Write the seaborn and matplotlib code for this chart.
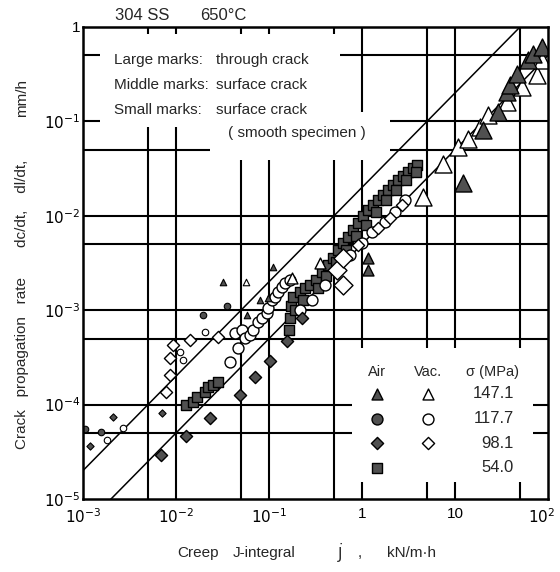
import matplotlib
matplotlib.use("Agg")
import numpy as np
import matplotlib.pyplot as plt
import matplotlib.transforms as mtransforms
import seaborn as sns
from matplotlib.patches import Rectangle

# ---------------- data: creep J-integral (kN/m.h) vs crack rate (mm/h) ----------------
# 147.1 MPa, air (filled triangles)
air147_large_J = [12.2, 20.0, 29.0, 36.0, 39.0, 46.0, 61.0, 69.0, 86.0]
air147_large_rate = [0.0222, 0.081, 0.126, 0.205, 0.243, 0.318, 0.447, 0.518, 0.614]
air147_mid_J = [1.16, 1.16]
air147_mid_rate = [3.57e-3, 2.67e-3]
air147_small_J = [3.2e-2, 5.8e-2, 8.0e-2, 9.75e-2, 0.110]
air147_small_rate = [2.0e-3, 8.9e-4, 1.28e-3, 1.35e-3, 2.9e-3]
# 147.1 MPa, vacuum (open triangles)
vac147_large_J = [4.5, 7.4, 10.8, 13.8, 18.6, 22.6, 36.0, 52.5, 76.0, 86.0]
vac147_large_rate = [0.0158, 0.0354, 0.0536, 0.065, 0.087, 0.117, 0.161, 0.231, 0.31, 0.447]
vac147_mid_J = [0.177, 0.353]
vac147_mid_rate = [2.19e-3, 3.16e-3]
vac147_small_J = [5.7e-2]
vac147_small_rate = [2.0e-3]

# 117.7 MPa, air (filled circles)
air117_small_J = [1.05e-3, 1.56e-3, 1.95e-2, 3.5e-2]
air117_small_rate = [5.5e-5, 5.1e-5, 8.9e-4, 1.11e-3]
# 117.7 MPa, vacuum (open circles)
vac117_small_J = [1.81e-3, 2.7e-3, 1.1e-2, 1.2e-2, 2.05e-2]
vac117_small_rate = [4.2e-5, 5.65e-5, 3.6e-4, 3.0e-4, 5.9e-4]
vac117_mid_J = [3.8e-2, 4.31e-2, 4.64e-2, 5.13e-2, 5.52e-2, 6.25e-2, 6.73e-2, 7.62e-2,
                8.4e-2, 9.5e-2, 9.75e-2, 0.108, 0.116, 0.125, 0.138, 0.149, 0.168,
                0.215, 0.290, 0.400, 0.743, 1.0, 1.28, 1.77, 2.26, 2.90]
vac117_mid_rate = [2.83e-4, 5.73e-4, 3.98e-4, 6.17e-4, 5.08e-4, 5.46e-4, 6.2e-4, 7.5e-4,
                   8.26e-4, 9.3e-4, 1.05e-3, 1.28e-3, 1.38e-3, 1.56e-3, 1.76e-3, 1.94e-3, 2.09e-3,
                   1.0e-3, 1.28e-3, 1.85e-3, 3.84e-3, 5.15e-3, 6.73e-3, 8.59e-3, 1.10e-2, 1.47e-2]

# 98.1 MPa, air (filled diamonds)
air98_mid_J = [6.9e-3, 1.28e-2, 2.32e-2, 4.9e-2, 7.1e-2, 0.103, 0.156, 0.226]
air98_mid_rate = [2.92e-5, 4.65e-5, 7.2e-5, 1.26e-4, 1.96e-4, 2.9e-4, 4.7e-4, 8.3e-4]
air98_small_J = [1.19e-3, 2.1e-3, 7.1e-3]
air98_small_rate = [3.64e-5, 7.4e-5, 8.15e-5]
# 98.1 MPa, vacuum (open diamonds)
vac98_mid_J = [7.8e-3, 8.6e-3, 8.6e-3, 9.3e-3, 1.42e-2, 2.83e-2, 0.906, 1.49, 2.0, 2.69]
vac98_mid_rate = [1.36e-4, 2.06e-4, 3.12e-4, 4.28e-4, 4.83e-4, 5.2e-4, 4.9e-3, 7.43e-3, 9.47e-3, 1.30e-2]
vac98_large_J = [0.54, 0.625, 0.625]
vac98_large_rate = [2.67e-3, 3.57e-3, 1.85e-3]

# 54.0 MPa, air (filled squares)
air54_mid_J = [1.28e-2, 1.52e-2, 1.68e-2, 2.05e-2, 2.2e-2, 2.5e-2, 2.83e-2,
               0.164, 0.168, 0.172, 0.181, 0.215, 0.244, 0.276, 0.32, 0.371, 0.431, 0.487,
               0.552, 0.625, 0.707, 0.80, 0.906, 1.03, 1.16, 1.31, 1.49, 1.68, 1.90, 2.15,
               2.44, 2.76, 3.12, 3.53, 3.90,
               0.19, 0.232, 0.336, 0.41, 0.525, 0.673, 0.861, 1.10, 1.42, 1.81, 2.32, 2.97, 3.81]
air54_mid_rate = [9.9e-5, 1.07e-4, 1.2e-4, 1.36e-4, 1.54e-4, 1.61e-4, 1.73e-4,
                  6.2e-4, 8.3e-4, 1.1e-3, 1.38e-3, 1.56e-3, 1.72e-3, 1.85e-3, 2.09e-3, 2.54e-3, 3.0e-3, 3.57e-3,
                  4.34e-3, 5.15e-3, 5.96e-3, 7.08e-3, 8.39e-3, 9.95e-3, 1.15e-2, 1.30e-2, 1.47e-2, 1.66e-2, 1.87e-2, 2.12e-2,
                  2.39e-2, 2.64e-2, 2.91e-2, 3.21e-2, 3.45e-2,
                  1.0e-3, 1.28e-3, 1.72e-3, 2.30e-3, 3.24e-3, 4.34e-3, 6.11e-3, 8.0e-3, 1.10e-2, 1.47e-2, 1.87e-2, 2.39e-2, 2.91e-2]

# bounding lines  rate = k * J
line_J = np.array([1e-3, 1e2])
upper_k = 0.02
lower_k = 0.005

# axis ticks and reference grid
x_ticks = [1e-3, 1e-2, 1e-1, 1, 10, 1e2]
x_ticklabels = [r"$10^{-3}$", r"$10^{-2}$", r"$10^{-1}$", "1", "10", r"$10^{2}$"]
y_ticks = [1e-5, 1e-4, 1e-3, 1e-2, 1e-1, 1]
y_ticklabels = [r"$10^{-5}$", r"$10^{-4}$", r"$10^{-3}$", r"$10^{-2}$", r"$10^{-1}$", "1"]
x_grid = [5e-3, 1e-2, 5e-2, 1e-1, 5e-1, 1, 5, 10, 50]
y_grid = [0.5, 0.1, 0.05, 0.01, 0.005, 0.001, 5e-4, 1e-4, 5e-5]

stress_labels = ["147.1", "117.7", "98.1", "54.0"]

# ---------------- styling ----------------
sns.set_theme(style="white")
plt.rcParams["font.family"] = ["Liberation Sans", "DejaVu Sans"]
plt.rcParams["mathtext.fontset"] = "dejavusans"

W, H = 560, 572
fig = plt.figure(figsize=(W / 100, H / 100), dpi=100)
L, R, T, B = 83, 548, 27, 499
ax = fig.add_axes([L / W, 1 - B / H, (R - L) / W, (B - T) / H])
ax.set_xscale("log")
ax.set_yscale("log")
ax.set_xlim(1e-3, 1e2)
ax.set_ylim(1e-5, 1)


def fx(px):
    return (px - L) / (R - L)


def fy(py):
    return (B - py) / (B - T)


for v in x_grid:
    ax.axvline(v, color="black", lw=1.5, zorder=1)
for h in y_grid:
    ax.axhline(h, color="black", lw=1.5, zorder=1)

# blank panels behind the annotation blocks
for (x0, x1, y0, y1) in [(100, 340, 34, 127), (210, 390, 112, 160), (352, 533, 348, 482)]:
    ax.add_patch(Rectangle((fx(x0), fy(y1)), fx(x1) - fx(x0), fy(y0) - fy(y1),
                           transform=ax.transAxes, facecolor="white", edgecolor="none",
                           zorder=1.5))

for k in (upper_k, lower_k):
    sns.lineplot(x=line_J, y=k * line_J, color="black", lw=1.1, ax=ax, zorder=2)

FILL = "#505050"
SIZES = {"large": 150, "mid": 62, "small": 22}
DSCALE = 0.62  # diamonds look larger at equal area


def draw(J, rate, marker, size, filled):
    s = SIZES[size] * (DSCALE if marker == "D" else 1.0)
    sns.scatterplot(x=J, y=rate, marker=marker, s=s,
                    color=FILL if filled else "white", edgecolor="black",
                    linewidth=1.0 if size != "small" else 0.8, ax=ax, zorder=3)


draw(air54_mid_J, air54_mid_rate, "s", "mid", True)
draw(vac117_small_J, vac117_small_rate, "o", "small", False)
draw(vac117_mid_J, vac117_mid_rate, "o", "mid", False)
draw(vac98_mid_J, vac98_mid_rate, "D", "mid", False)
draw(vac98_large_J, vac98_large_rate, "D", "large", False)
draw(vac147_large_J, vac147_large_rate, "^", "large", False)
draw(vac147_mid_J, vac147_mid_rate, "^", "mid", False)
draw(vac147_small_J, vac147_small_rate, "^", "small", False)
draw(air147_large_J, air147_large_rate, "^", "large", True)
draw(air147_mid_J, air147_mid_rate, "^", "mid", True)
draw(air147_small_J, air147_small_rate, "^", "small", True)
draw(air117_small_J, air117_small_rate, "o", "small", True)
draw(air98_mid_J, air98_mid_rate, "D", "mid", True)
draw(air98_small_J, air98_small_rate, "D", "small", True)

ax.set_xticks(x_ticks, x_ticklabels)
ax.set_yticks(y_ticks, y_ticklabels)
ax.xaxis.set_minor_locator(matplotlib.ticker.NullLocator())
ax.yaxis.set_minor_locator(matplotlib.ticker.NullLocator())
ax.tick_params(axis="both", length=0, labelsize=11, colors="black")
ax.tick_params(axis="x", pad=6)
ax.tick_params(axis="y", pad=2)
# keep the last x label inside the canvas
last = ax.get_xticklabels()[-1]
last.set_transform(last.get_transform() +
                   mtransforms.ScaledTranslation(-6 / 100, 0, fig.dpi_scale_trans))
ax.set_xlabel("")
ax.set_ylabel("")
for sp in ax.spines.values():
    sp.set_visible(True)
    sp.set_color("black")
    sp.set_linewidth(1.8)
    sp.set_zorder(4)

# size key, top left
kx1, kx2 = fx(114), fx(216)
for row, (a, b) in enumerate([("Large marks:", "through crack"),
                              ("Middle marks:", "surface crack"),
                              ("Small marks:", "surface crack")]):
    yy = fy(60 + 25 * row)
    ax.text(kx1, yy, a, transform=ax.transAxes, fontsize=11, va="center", ha="left", zorder=5)
    ax.text(kx2, yy, b, transform=ax.transAxes, fontsize=11, va="center", ha="left", zorder=5)
ax.text(fx(228), fy(133), "( smooth specimen )", transform=ax.transAxes, fontsize=11,
        va="center", ha="left", zorder=5)

# environment / stress key, bottom right
cx_air, cx_vac, cx_val = fx(377), fx(428), fx(514)
ax.text(cx_air, fy(372), "Air", transform=ax.transAxes, fontsize=10.5, ha="center", va="center", zorder=5)
ax.text(cx_vac, fy(372), "Vac.", transform=ax.transAxes, fontsize=10.5, ha="center", va="center", zorder=5)
ax.text(fx(492), fy(372), "σ (MPa)", transform=ax.transAxes, fontsize=10.5, ha="center", va="center", zorder=5)
key_markers = ["^", "o", "D", "s"]
for i, (m, lab) in enumerate(zip(key_markers, stress_labels)):
    yy = fy(394 + 24.5 * i)
    s = SIZES["mid"] * (DSCALE if m == "D" else 1.0)
    ax.scatter([cx_air], [yy], marker=m, s=s, color=FILL, edgecolor="black", lw=1.0,
               transform=ax.transAxes, zorder=5, clip_on=False)
    if m != "s":
        ax.scatter([cx_vac], [yy], marker=m, s=s, color="white", edgecolor="black", lw=1.0,
                   transform=ax.transAxes, zorder=5, clip_on=False)
    ax.text(cx_val, yy, lab, transform=ax.transAxes, fontsize=12, ha="right", va="center", zorder=5)

# title
fig.text(115 / W, 1 - 15 / H, "304 SS", fontsize=12, ha="left", va="center")
fig.text(200 / W, 1 - 15 / H, "650°C", fontsize=12, ha="left", va="center")

# y axis title, in three pieces along the left margin
for text, yc in [("Crack   propagation   rate", 363), ("dc/dt,    dl/dt,", 203), ("mm/h", 98)]:
    fig.text(22 / W, 1 - yc / H, text, rotation=90, fontsize=11, ha="center", va="center")

# x axis title pieces
for text, xl in [("Creep", 177), ("J-integral", 233), (r"$\dot{\mathrm{J}}$", 337), (",", 358), ("kN/m·h", 387)]:
    fig.text(xl / W, 1 - 553 / H, text, fontsize=11, ha="left", va="center")

fig.savefig("out.png", dpi=100, facecolor="white")
